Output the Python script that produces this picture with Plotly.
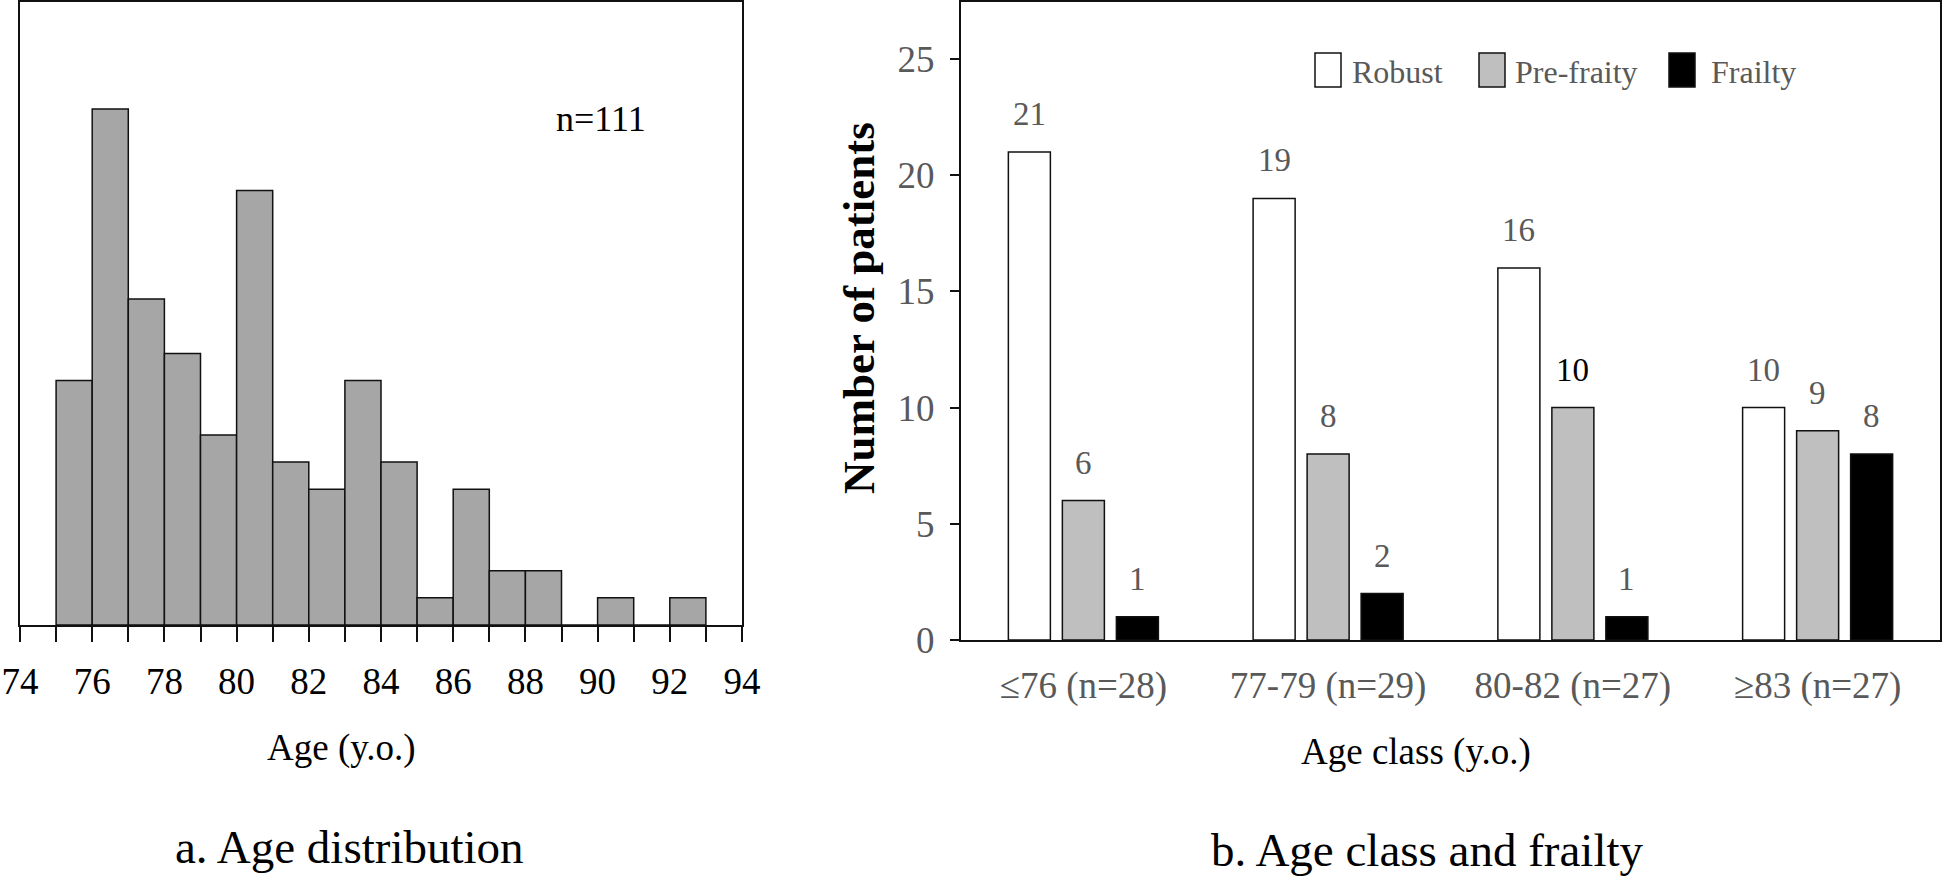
import plotly.graph_objects as go

# ---------------- data ----------------
bin_left_edges = [75, 76, 77, 78, 79, 80, 81, 82, 83, 84, 85, 86, 87, 88, 89, 90, 91, 92]
age_counts = [9, 19, 12, 10, 7, 16, 6, 5, 9, 6, 1, 5, 2, 2, 0, 1, 0, 1]
age_tick_values = list(range(74, 95))
age_tick_labels = [str(v) if v % 2 == 0 else "" for v in age_tick_values]

age_classes = ["≤76 (n=28)", "77-79 (n=29)", "80-82 (n=27)", "≥83 (n=27)"]
robust = [21, 19, 16, 10]
pre_frailty = [6, 8, 10, 9]
frailty = [1, 2, 1, 8]
series_names = ["Robust", "Pre-fraity", "Frailty"]
series_colors = ["#ffffff", "#bfbfbf", "#000000"]

# ---------------- figure ----------------
W, H = 1944, 879
FONT = "Liberation Serif, Times New Roman, serif"
GRAY = "#595959"


def px(x):
    return x / W


def py(y):
    return 1 - y / H


fig = go.Figure()

fig.add_trace(go.Bar(
    x=[e + 0.5 for e in bin_left_edges], y=age_counts, width=1,
    marker=dict(color="#a6a6a6", line=dict(color="#111111", width=1.5)),
    xaxis="x", yaxis="y", showlegend=False, hoverinfo="x+y",
))

for name, vals, col in zip(series_names, [robust, pre_frailty, frailty], series_colors):
    fig.add_trace(go.Bar(
        x=age_classes, y=vals, name=name,
        marker=dict(color=col, line=dict(color="#111111", width=1.5)),
        xaxis="x2", yaxis="y2", showlegend=False,
    ))

annotations = []
offsets = [-54, 0, 54]
for si, vals in enumerate([robust, pre_frailty, frailty]):
    for ci, v in enumerate(vals):
        color = "#000000" if (si == 1 and ci == 2) else GRAY
        annotations.append(dict(
            x=age_classes[ci], y=v, xref="x2", yref="y2", text=str(v),
            showarrow=False, xshift=offsets[si], yshift=38,
            xanchor="center", yanchor="middle",
            font=dict(family=FONT, size=33, color=color),
        ))

annotations.append(dict(x=px(601), y=py(119), xref="paper", yref="paper", text="n=111",
                        showarrow=False, xanchor="center", yanchor="middle",
                        font=dict(family=FONT, size=36, color="#000000")))
annotations.append(dict(x=px(341), y=py(748), xref="paper", yref="paper", text="Age (y.o.)",
                        showarrow=False, xanchor="center", yanchor="middle",
                        font=dict(family=FONT, size=37, color="#000000")))
annotations.append(dict(x=px(1416), y=py(752), xref="paper", yref="paper", text="Age class (y.o.)",
                        showarrow=False, xanchor="center", yanchor="middle",
                        font=dict(family=FONT, size=37, color="#000000")))
annotations.append(dict(x=px(859), y=py(308), xref="paper", yref="paper", text="<b>Number of patients</b>",
                        showarrow=False, xanchor="center", yanchor="middle", textangle=-90,
                        font=dict(family=FONT, size=45, color="#000000")))
annotations.append(dict(x=px(349), y=py(847), xref="paper", yref="paper", text="a. Age distribution",
                        showarrow=False, xanchor="center", yanchor="middle",
                        font=dict(family=FONT, size=47, color="#000000")))
annotations.append(dict(x=px(1427), y=py(850), xref="paper", yref="paper", text="b. Age class and frailty",
                        showarrow=False, xanchor="center", yanchor="middle",
                        font=dict(family=FONT, size=47, color="#000000")))

shapes = []
legend_box_x = [1315, 1479, 1669]
legend_text_x = [1350, 1513, 1709]
for name, col, bx, tx in zip(series_names, series_colors, legend_box_x, legend_text_x):
    shapes.append(dict(type="rect", xref="paper", yref="paper",
                       x0=px(bx), x1=px(bx + 26), y0=py(87), y1=py(53),
                       fillcolor=col, line=dict(color="#111111", width=1.5)))
    annotations.append(dict(x=px(tx), y=py(72), xref="paper", yref="paper", text=name,
                            showarrow=False, xanchor="left", yanchor="middle",
                            font=dict(family=FONT, size=32, color=GRAY)))

fig.update_layout(
    width=W, height=H, autosize=False,
    margin=dict(l=0, r=0, t=0, b=0, pad=0, autoexpand=False),
    paper_bgcolor="white", plot_bgcolor="white",
    barmode="group", bargap=0.338, bargroupgap=0.222,
    font=dict(family=FONT, color="#000000"),
    showlegend=False,
    annotations=annotations, shapes=shapes,
    xaxis=dict(
        domain=[px(20), px(742)], anchor="y", range=[74, 94], automargin=False,
        tickmode="array", tickvals=age_tick_values, ticktext=age_tick_labels,
        ticks="outside", ticklen=15, tickwidth=2, tickcolor="#111111",
        showline=True, linewidth=2, linecolor="#111111", mirror=True,
        showgrid=False, zeroline=False,
        tickfont=dict(family=FONT, size=37, color="#000000"),
        ticklabelstandoff=8,
    ),
    yaxis=dict(
        domain=[py(625), py(2)], anchor="x", range=[0, 22.94], automargin=False,
        showticklabels=False, ticks="",
        showline=True, linewidth=2, linecolor="#111111", mirror=True,
        showgrid=False, zeroline=False,
    ),
    xaxis2=dict(
        domain=[px(961), px(1940)], anchor="y2", type="category", automargin=False,
        range=[-0.5, 3.5], ticks="",
        showline=True, linewidth=2, linecolor="#111111", mirror=True,
        showgrid=False, zeroline=False,
        tickfont=dict(family=FONT, size=37, color=GRAY),
        ticklabelstandoff=12,
    ),
    yaxis2=dict(
        domain=[py(640), py(2)], anchor="x2", range=[0, 27.45], automargin=False,
        tickmode="array", tickvals=[0, 5, 10, 15, 20, 25],
        ticks="outside", ticklen=9, tickwidth=2, tickcolor="#111111",
        showline=True, linewidth=2, linecolor="#111111", mirror=True,
        showgrid=False, zeroline=False,
        tickfont=dict(family=FONT, size=37, color=GRAY),
        ticklabelstandoff=8,
    ),
)

page_reset = (
    "document.documentElement.style.margin='0';"
    "document.documentElement.style.overflow='hidden';"
    "document.body.style.margin='0';"
    "document.body.style.padding='0';"
    "document.body.style.overflow='hidden';"
)

fig.write_html("out.html", post_script=page_reset, config={"displayModeBar": False})
